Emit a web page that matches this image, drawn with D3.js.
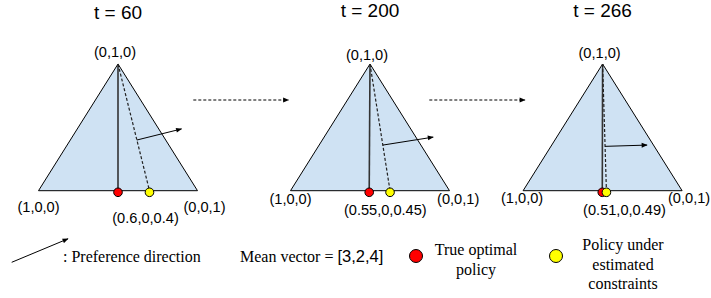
<!DOCTYPE html>
<html>
<head>
<meta charset="utf-8">
<script src="https://cdn.jsdelivr.net/npm/d3@7"></script>
<style>
  body { margin: 0; background: #fff; }
  svg { display: block; }
</style>
</head>
<body>
<script>
// Data
const steps = [60, 200, 266];
const vertexLabels = ["(1,0,0)", "(0,1,0)", "(0,0,1)"];
const optimalLabels = ["(0.6,0,0.4)", "(0.55,0,0.45)", "(0.51,0,0.49)"];
// position of the policies along the base edge (0 = left vertex, 1 = right vertex)
const trueOptimal = [0.5, 0.495, 0.498];
const estimatedPolicy = [0.698, 0.626, 0.524];
// where the preference arrow leaves the dashed line (fraction from apex)
const arrowStart = [0.6, 0.64, 0.65];
const legendItems = ["True optimal\npolicy", "Policy under\nestimated\nconstraints"];
const legendColors = ["#ff0000", "#ffff00"];
const meanVector = [3, 2, 4];

// Layout
const width = 711;
const height = 298;
const apexY = 64;
const baseY = 190.7;
const halfBase = 79.5;
const panelX = [118, 370, 602.6];
const titleY = [18.5, 16.7, 16.5];
const topLabelY = [57, 60, 58];
const cornerLabelY = [211.5, 204, 203];
const optLabelY = [223, 215, 215];
const cornerPad = [[0, 7], [0, 8.7], [-1, 7]];
const optLabelX = [145.5, 385.3, 624.5];
const arrowLen = [46, 51, 42];

const sans = "'Liberation Sans', Arial, sans-serif";
const serif = "'Liberation Serif', 'Times New Roman', serif";

const svg = d3.select("body")
  .append("svg")
  .attr("width", width)
  .attr("height", height);

const defs = svg.append("defs");
defs.append("marker")
  .attr("id", "head")
  .attr("viewBox", "0 0 10 10")
  .attr("refX", 9)
  .attr("refY", 5)
  .attr("markerUnits", "userSpaceOnUse")
  .attr("markerWidth", 7)
  .attr("markerHeight", 6)
  .attr("orient", "auto")
  .append("path")
  .attr("d", "M0,1 L10,5 L0,9 Z")
  .attr("fill", "#000");

const panels = svg.selectAll(".panel")
  .data(steps)
  .join("g")
  .attr("class", "panel");

panels.each(function (t, i) {
  const g = d3.select(this);
  const cx = panelX[i];
  const x = d3.scaleLinear().domain([0, 1]).range([cx - halfBase, cx + halfBase]);

  // triangle
  g.append("path")
    .attr("d", d3.line()([[x(0), baseY], [cx, apexY], [x(1), baseY]]) + "Z")
    .attr("fill", "#cfe2f3")
    .attr("stroke", "#000")
    .attr("stroke-width", 1);

  // solid line to true optimal
  const rx = x(trueOptimal[i]);
  g.append("line")
    .attr("x1", cx).attr("y1", apexY)
    .attr("x2", rx).attr("y2", baseY)
    .attr("stroke", "#333")
    .attr("stroke-width", 1.6);

  // dashed line to estimated policy
  const yx = x(estimatedPolicy[i]);
  g.append("line")
    .attr("x1", cx).attr("y1", apexY)
    .attr("x2", yx).attr("y2", baseY)
    .attr("stroke", "#222")
    .attr("stroke-width", 1.2)
    .attr("stroke-dasharray", "3,2");

  // preference direction, perpendicular to the dashed line
  const dx = yx - cx, dy = baseY - apexY;
  const len = Math.hypot(dx, dy);
  const sx = cx + dx * arrowStart[i], sy = apexY + dy * arrowStart[i];
  g.append("line")
    .attr("x1", sx).attr("y1", sy)
    .attr("x2", sx + arrowLen[i] * dy / len)
    .attr("y2", sy - arrowLen[i] * dx / len)
    .attr("stroke", "#000")
    .attr("stroke-width", 1)
    .attr("marker-end", "url(#head)");

  // policies
  g.selectAll("circle")
    .data([rx, yx])
    .join("circle")
    .attr("cx", d => d)
    .attr("cy", baseY + 1.6)
    .attr("r", 4.3)
    .attr("fill", (d, j) => legendColors[j])
    .attr("stroke", "#000")
    .attr("stroke-width", 1);

  // labels
  g.append("text")
    .attr("x", cx).attr("y", titleY[i])
    .attr("text-anchor", "middle")
    .attr("font-family", sans)
    .attr("font-size", 19)
    .text(`t = ${t}`);

  g.append("text")
    .attr("x", cx - 3).attr("y", topLabelY[i])
    .attr("text-anchor", "middle")
    .attr("font-family", sans)
    .attr("font-size", 14.6)
    .text(vertexLabels[1]);

  g.append("text")
    .attr("x", x(0) + cornerPad[i][0]).attr("y", cornerLabelY[i])
    .attr("text-anchor", "middle")
    .attr("font-family", sans)
    .attr("font-size", 14.6)
    .text(vertexLabels[0]);

  g.append("text")
    .attr("x", x(1) + cornerPad[i][1]).attr("y", cornerLabelY[i])
    .attr("text-anchor", "middle")
    .attr("font-family", sans)
    .attr("font-size", 14.6)
    .text(vertexLabels[2]);

  g.append("text")
    .attr("x", optLabelX[i]).attr("y", optLabelY[i])
    .attr("text-anchor", "middle")
    .attr("font-family", sans)
    .attr("font-size", 14.6)
    .text(optimalLabels[i]);
});

// dashed arrows between panels
const links = [[193.3, 288.5], [429.3, 525]];
svg.selectAll(".step")
  .data(links)
  .join("line")
  .attr("class", "step")
  .attr("x1", d => d[0]).attr("y1", 100)
  .attr("x2", d => d[1]).attr("y2", 100)
  .attr("stroke", "#000")
  .attr("stroke-width", 1)
  .attr("stroke-dasharray", "3,2")
  .attr("marker-end", "url(#head)");

// legend
svg.append("line")
  .attr("x1", 11.7).attr("y1", 262.3)
  .attr("x2", 68).attr("y2", 238.8)
  .attr("stroke", "#000")
  .attr("stroke-width", 1)
  .attr("marker-end", "url(#head)");

svg.append("text")
  .attr("x", 63).attr("y", 261.5)
  .attr("font-family", serif)
  .attr("font-size", 16)
  .text(": Preference direction");

const mean = svg.append("text")
  .attr("x", 240).attr("y", 261.5)
  .attr("font-family", serif)
  .attr("font-size", 16)
  .text("Mean vector = ");
mean.append("tspan")
  .attr("font-family", sans)
  .attr("font-size", 16.5)
  .text(`[${meanVector.join(",")}]`);

const legendX = [416, 556];
const legendTextX = [476, 623];
const legendTextY = [255, 250];
legendItems.forEach((label, i) => {
  svg.append("circle")
    .attr("cx", legendX[i]).attr("cy", 256)
    .attr("r", 6.5)
    .attr("fill", legendColors[i])
    .attr("stroke", "#000")
    .attr("stroke-width", 1);
  const txt = svg.append("text")
    .attr("text-anchor", "middle")
    .attr("font-family", serif)
    .attr("font-size", 16);
  label.split("\n").forEach((line, j) => {
    txt.append("tspan")
      .attr("x", legendTextX[i])
      .attr("y", legendTextY[i] + j * 19.6)
      .text(line);
  });
});
</script>
</body>
</html>
